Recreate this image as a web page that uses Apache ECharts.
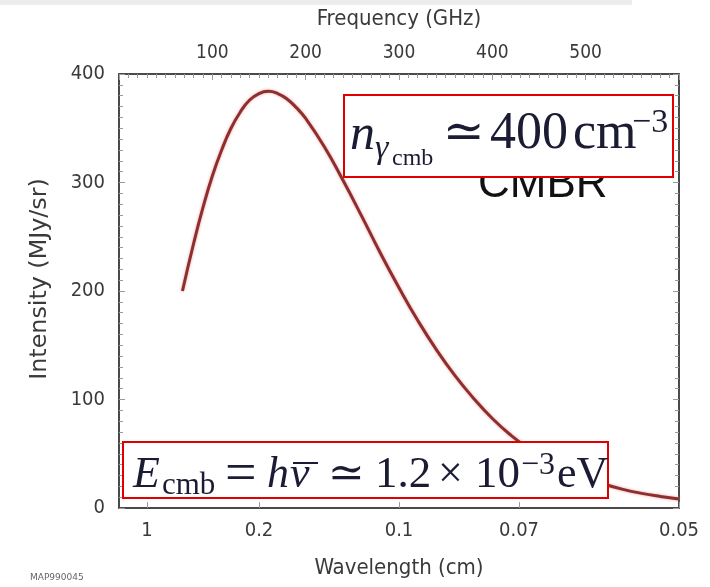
<!DOCTYPE html>
<html>
<head>
<meta charset="utf-8">
<script src="https://cdn.jsdelivr.net/npm/echarts@6/dist/echarts.min.js"></script>
<style>html,body{margin:0;padding:0;background:#fff}#c{width:710px;height:587px}</style>
</head>
<body>
<div id="c"></div>
<script>
// Data
const frequencyGHz = [68, 80, 90, 100, 110, 120, 130, 140, 150, 160, 170, 180, 190, 200, 220, 240, 260, 280, 300, 320, 340, 360, 380, 400, 420, 440, 460, 480, 500, 520, 540, 560, 580, 600];
const intensityMJySr = [200, 244, 277, 306, 330, 350, 365, 376, 382, 384, 382, 377, 369, 359, 333, 302, 269, 235, 203, 173, 146, 122, 101, 82.5, 67, 54, 43.6, 34.8, 27.7, 21.9, 17.2, 13.5, 10.6, 8.2];
const wavelengthLabels = ['1', '0.2', '0.1', '0.07', '0.05'];
const wavelengthCm = [1, 0.2, 0.1, 0.07, 0.05];
const wavelengthTickGHz = wavelengthCm.map(l => 30 / l);

const axisFont = 'DejaVu Sans Condensed, DejaVu Sans';
const txtColor = '#3a3a3a';
const frameColor = '#4a4a4a';
const tickColor = '#9a9a9a';
const mathColor = '#1b1b33';
const serif = 'Liberation Serif, DejaVu Serif, serif';

function piece(text, x, baseline, size, italic, opts) {
  return Object.assign({
    type: 'text', z: 30,
    style: {
      text: text, x: x, y: baseline - 0.34 * size,
      font: (italic ? 'italic ' : '') + size + 'px ' + serif,
      fill: mathColor, textAlign: 'left', verticalAlign: 'middle'
    }
  }, opts || {});
}

const chart = echarts.init(document.getElementById('c'), null, {renderer: 'canvas'});
const option = {
  backgroundColor: '#fff',
  animation: false,
  grid: {left: 119, right: 31, top: 74, bottom: 79},
  xAxis: [{
    type: 'value', position: 'bottom', min: 0, max: 600,
    name: 'Wavelength (cm)', nameLocation: 'middle', nameGap: 49,
    nameTextStyle: {fontFamily: axisFont, fontSize: 22, color: txtColor},
    axisLine: {show: true, onZero: false, lineStyle: {color: frameColor, width: 2}},
    axisTick: {show: true, inside: true, length: 6, customValues: wavelengthTickGHz, lineStyle: {color: tickColor}},
    minorTick: {show: false},
    axisLabel: {
      show: true, margin: 13, fontFamily: axisFont, fontSize: 20, color: txtColor,
      customValues: wavelengthTickGHz,
      formatter: function (v) {
        let best = 0;
        for (let i = 0; i < wavelengthTickGHz.length; i++) {
          if (Math.abs(wavelengthTickGHz[i] - v) < Math.abs(wavelengthTickGHz[best] - v)) best = i;
        }
        return wavelengthLabels[best];
      }
    },
    splitLine: {show: false}
  }, {
    type: 'value', position: 'top', min: 0, max: 600, interval: 100,
    name: 'Frequency (GHz)', nameLocation: 'middle', nameGap: 44,
    nameTextStyle: {fontFamily: axisFont, fontSize: 22, color: txtColor},
    axisLine: {show: true, onZero: false, lineStyle: {color: frameColor, width: 2}},
    axisTick: {show: true, inside: true, length: 6, lineStyle: {color: tickColor}},
    minorTick: {show: true, splitNumber: 10, length: 4, lineStyle: {color: tickColor}},
    axisLabel: {show: true, margin: 11, fontFamily: axisFont, fontSize: 19, color: txtColor, showMinLabel: false, showMaxLabel: false},
    splitLine: {show: false}
  }],
  yAxis: [{
    type: 'value', position: 'left', min: 0, max: 400, interval: 100,
    axisLine: {show: true, onZero: false, lineStyle: {color: frameColor, width: 2}},
    axisTick: {show: true, inside: true, length: 6, lineStyle: {color: tickColor}},
    minorTick: {show: true, splitNumber: 10, length: 4, lineStyle: {color: tickColor}},
    axisLabel: {show: true, margin: 14, fontFamily: axisFont, fontSize: 20, color: txtColor},
    splitLine: {show: false}
  }, {
    type: 'value', position: 'right', min: 0, max: 400, interval: 100,
    axisLine: {show: true, onZero: false, lineStyle: {color: frameColor, width: 2}},
    axisTick: {show: true, inside: true, length: 6, lineStyle: {color: tickColor}},
    minorTick: {show: true, splitNumber: 10, length: 4, lineStyle: {color: tickColor}},
    axisLabel: {show: false},
    splitLine: {show: false}
  }],
  series: [{
    type: 'line', xAxisIndex: 0, yAxisIndex: 0,
    data: frequencyGHz.map((f, i) => [f, intensityMJySr[i]]),
    smooth: true, showSymbol: false,
    lineStyle: {color: '#8e2f2f', width: 3, shadowColor: 'rgba(235,120,120,0.7)', shadowBlur: 3},
    z: 5
  }],
  graphic: [
    {type: 'rect', z: 1, shape: {x: 0, y: 0, width: 632, height: 5}, style: {fill: '#ececec'}},
    {type: 'text', z: 2, x: 40, y: 279, rotation: Math.PI / 2, scaleX: 1.15,
      style: {text: 'Intensity (MJy/sr)', font: '23px DejaVu Sans Condensed, DejaVu Sans', fill: txtColor, textAlign: 'center', verticalAlign: 'middle'}},
    {type: 'text', z: 2, style: {text: 'MAP990045', x: 30, y: 578, font: '9px DejaVu Sans', fill: '#666', verticalAlign: 'middle'}},
    {type: 'text', z: 20, style: {text: 'CMBR', x: 478, y: 200 - 0.34 * 44, font: '44px Liberation Sans, Arial, sans-serif', fill: '#111', verticalAlign: 'middle'}},
    {type: 'rect', z: 25, shape: {x: 344, y: 95, width: 329, height: 82}, style: {fill: '#fff', stroke: '#e00000', lineWidth: 2}},
    piece('n', 350, 153, 50, true),
    piece('γ', 375, 161, 34, true),
    piece('cmb', 392, 167, 24, false),
    piece('≃', 443, 152, 50, false),
    piece('400', 490, 152, 52, false),
    piece('cm', 573, 152, 52, false),
    piece('−3', 632, 135, 34, false),
    {type: 'rect', z: 25, shape: {x: 123, y: 442, width: 485, height: 56}, style: {fill: '#fff', stroke: '#e00000', lineWidth: 2}},
    piece('E', 133, 490, 44, true),
    piece('cmb', 162, 496, 31, false),
    piece('=', 225, 495, 56, false),
    piece('h', 267, 490, 44, true),
    piece('ν', 290, 490, 44, true),
    {type: 'line', z: 30, shape: {x1: 293, y1: 463, x2: 318, y2: 463}, style: {stroke: mathColor, lineWidth: 2}},
    piece('≃', 328, 490, 44, false),
    piece('1.2', 375, 490, 45, false),
    piece('×', 438, 490, 44, false),
    piece('10', 475, 490, 45, false),
    piece('−3', 521, 476, 32, false),
    piece('eV', 557, 490, 44, false)
  ]
};
chart.setOption(option);
</script>
</body>
</html>
